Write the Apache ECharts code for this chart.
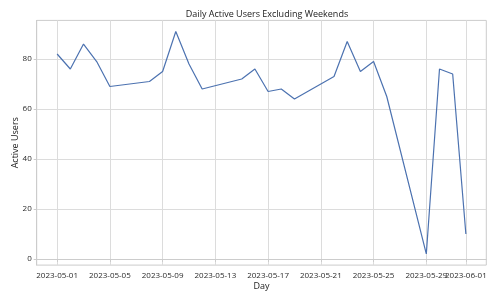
<!DOCTYPE html>
<html>
<head>
<meta charset="utf-8">
<script src="https://cdn.jsdelivr.net/npm/echarts@6/dist/echarts.min.js"></script>
<style>html,body{margin:0;padding:0;background:#fff}#c{width:500px;height:300px}</style>
</head>
<body>
<div id="c"></div>
<script>
const days = ['2023-05-01','2023-05-02','2023-05-03','2023-05-04','2023-05-05',
  '2023-05-08','2023-05-09','2023-05-10','2023-05-11','2023-05-12',
  '2023-05-15','2023-05-16','2023-05-17','2023-05-18','2023-05-19',
  '2023-05-22','2023-05-23','2023-05-24','2023-05-25','2023-05-26',
  '2023-05-29','2023-05-30','2023-05-31','2023-06-01'];
const activeUsers = [82,76,86,79,69, 71,75,91,78,68, 72,76,67,68,64, 73,87,75,79,65, 2,76,74,10];
const xTickLabels = ['2023-05-01','2023-05-05','2023-05-09','2023-05-13','2023-05-17','2023-05-21','2023-05-25','2023-05-29','2023-06-01'];
const yTicks = [0,20,40,60,80];

const toMs = s => { const p = s.split('-').map(Number); return Date.UTC(p[0], p[1]-1, p[2]); };
const fmt = v => { const d = new Date(v); const p = n => String(n).padStart(2,'0'); return d.getUTCFullYear()+'-'+p(d.getUTCMonth()+1)+'-'+p(d.getUTCDate()); };
const xs = days.map(toMs);
const xMin = xs[0], xMax = xs[xs.length-1];
const xPad = (xMax - xMin) * 0.05;
const yLo = Math.min(...activeUsers), yHi = Math.max(...activeUsers);
const yPad = (yHi - yLo) * 0.05;
const FONT = 'Open Sans';
const gridColor = '#dcdcdc';
const tickMs = xTickLabels.map(toMs);
const labelStyle = {fontFamily: FONT, fontSize: 8, color: '#2a2a2a', margin: 7};

const chart = echarts.init(document.getElementById('c'), null, {renderer: 'canvas'});
chart.setOption({
  animation: false,
  title: {
    text: 'Daily Active Users Excluding Weekends',
    left: 262, top: 4.5, textAlign: 'center',
    textStyle: {fontFamily: FONT, fontSize: 9, fontWeight: 'normal', color: '#1a1a1a'}
  },
  grid: {left: 36.7, right: 13.7, top: 20.4, bottom: 34.9, show: true, borderColor: '#cccccc', borderWidth: 1, containLabel: false, outerBoundsMode: 'none'},
  xAxis: [{
    type: 'value',
    min: xMin - xPad, max: xMax + xPad,
    name: 'Day', nameLocation: 'middle', nameGap: 17, nameMoveOverlap: false,
    nameTextStyle: {fontFamily: FONT, fontSize: 9, color: '#1a1a1a'},
    axisLine: {show: true, lineStyle: {color: '#cccccc'}},
    axisTick: {show: true, length: 3, lineStyle: {color: '#cccccc'}, customValues: tickMs},
    axisLabel: Object.assign({customValues: tickMs.slice(0, -1), formatter: v => fmt(v), hideOverlap: false}, labelStyle),
    splitLine: {show: true, lineStyle: {color: gridColor, width: 1}}
  }, {
    type: 'value', position: 'bottom',
    min: xMin - xPad, max: xMax + xPad,
    axisLine: {show: false}, axisTick: {show: false}, splitLine: {show: false},
    axisLabel: Object.assign({customValues: tickMs.slice(-1), formatter: v => fmt(v)}, labelStyle)
  }],
  yAxis: {
    type: 'value',
    min: yLo - yPad, max: yHi + yPad,
    name: 'Active Users', nameLocation: 'middle', nameGap: 17, nameMoveOverlap: false,
    nameTextStyle: {fontFamily: FONT, fontSize: 9, color: '#1a1a1a'},
    axisLine: {show: true, lineStyle: {color: '#cccccc'}},
    axisTick: {show: true, length: 3, lineStyle: {color: '#cccccc'}, customValues: yTicks},
    axisLabel: Object.assign({customValues: yTicks}, labelStyle, {margin: 5}),
    splitLine: {show: true, lineStyle: {color: gridColor, width: 1}}
  },
  series: [{
    type: 'line',
    xAxisIndex: 0,
    data: xs.map((x, i) => [x, activeUsers[i]]),
    showSymbol: false,
    lineStyle: {color: '#4c72b0', width: 1.2},
    itemStyle: {color: '#4c72b0'}
  }]
});
</script>
</body>
</html>
